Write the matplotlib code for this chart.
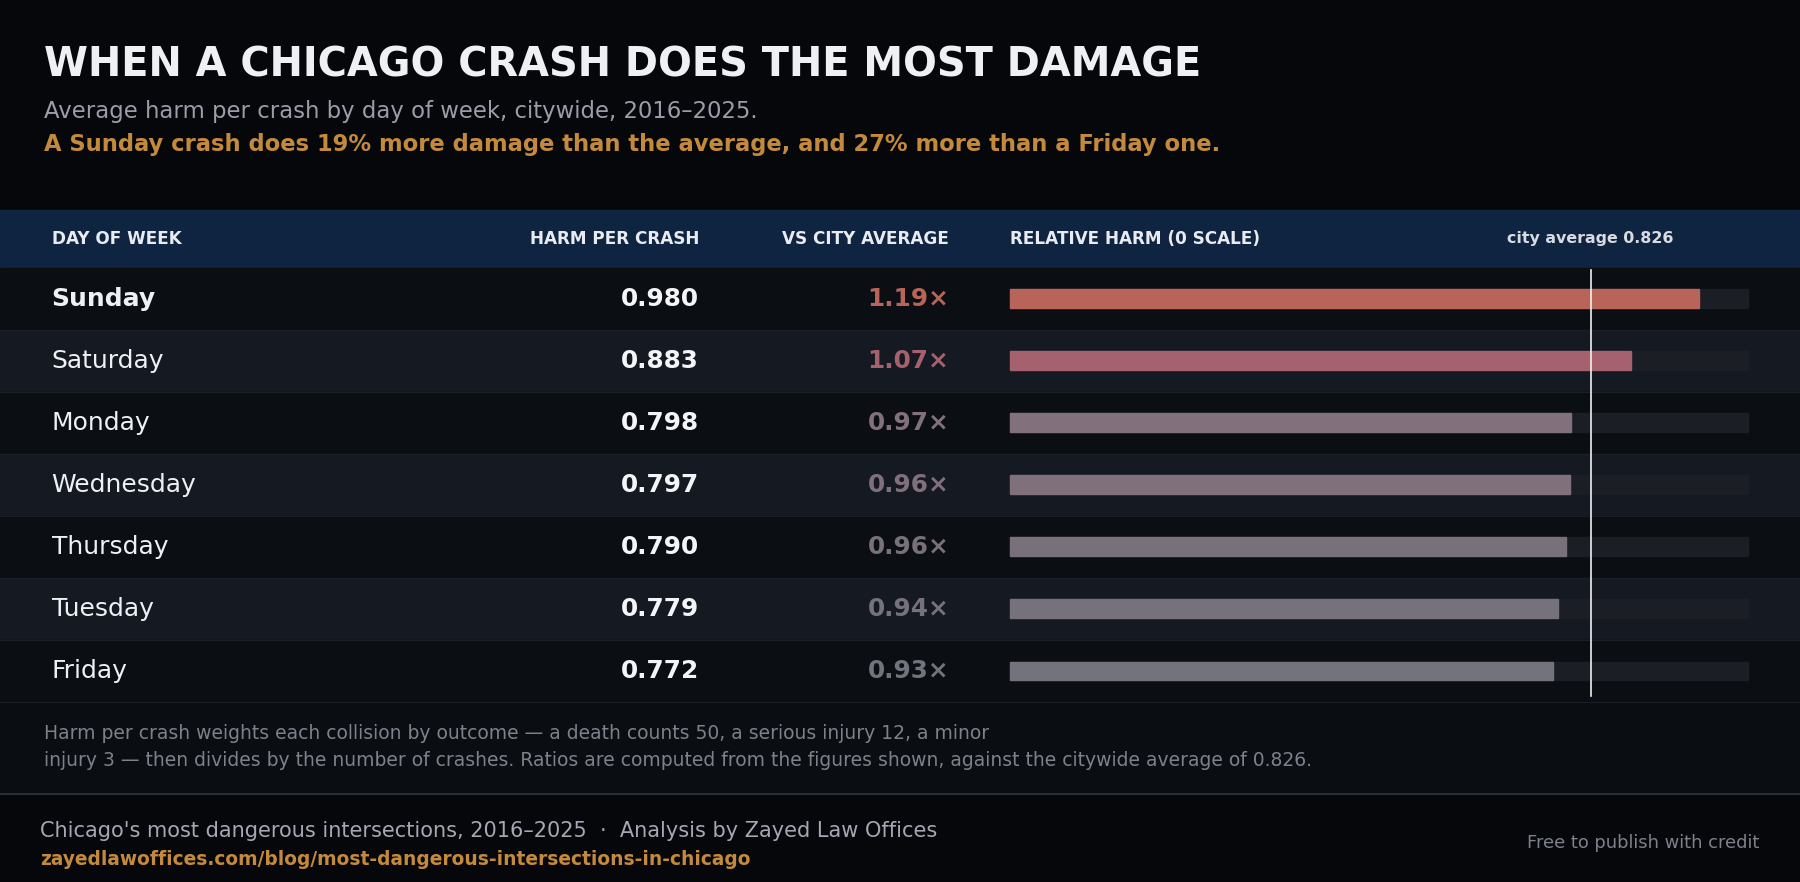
import matplotlib
matplotlib.use("Agg")
import matplotlib.pyplot as plt
from matplotlib.patches import Rectangle

days = ["Sunday", "Saturday", "Monday", "Wednesday", "Thursday", "Tuesday", "Friday"]
harm = [0.980, 0.883, 0.798, 0.797, 0.790, 0.779, 0.772]
ratio_labels = ["1.19×", "1.07×", "0.97×", "0.96×", "0.96×", "0.94×", "0.93×"]
bar_colors = ["#b86458", "#a6616e", "#82717d", "#80707c", "#78707a", "#75727c", "#72737d"]
city_avg = 0.826
scale_max = 1.05

W, H = 1568, 768
BG = "#06070b"

plt.rcParams["font.family"] = ["DejaVu Sans"]
fig = plt.figure(figsize=(18, 8.82), dpi=100, facecolor=BG)
ax = fig.add_axes([0, 0, 1, 1])
ax.set_xlim(0, W)
ax.set_ylim(H, 0)
ax.axis("off")
ax.add_patch(Rectangle((0, 0), W, H, color=BG, zorder=0))

# titles
ax.text(38, 57, "WHEN A CHICAGO CRASH DOES THE MOST DAMAGE", color="#eef0f4",
        fontsize=28.7, fontweight="bold", va="center")
ax.text(38, 97, "Average harm per crash by day of week, citywide, 2016–2025.",
        color="#9a9ea8", fontsize=16.4, va="center")
ax.text(38, 126, "A Sunday crash does 19% more damage than the average, and 27% more than a Friday one.",
        color="#c48a3c", fontsize=16.3, fontweight="bold", va="center")

# header band
ax.add_patch(Rectangle((0, 183), W, 50, color="#0f2440", zorder=1))
hy = 208
hkw = dict(color="#e8ebf0", fontsize=12.2, fontweight="bold", va="center", zorder=2)
ax.text(45, hy, "DAY OF WEEK", **hkw)
ax.text(609, hy, "HARM PER CRASH", ha="right", **hkw)
ax.text(827, hy, "VS CITY AVERAGE", ha="right", **hkw)
ax.text(880, hy, "RELATIVE HARM (0 SCALE)", **hkw)
ax.text(1385, hy, f"city average {city_avg:.3f}", ha="center", color="#d8dbe2",
        fontsize=11.4, fontweight="bold", va="center", zorder=2)

# rows
top, rh = 233, 54
bx0, bx1 = 880, 1523
px_per = (bx1 - bx0) / scale_max
for i, (d, v, r, c) in enumerate(zip(days, harm, ratio_labels, bar_colors)):
    y0 = top + i * rh
    yc = y0 + rh / 2
    ax.add_patch(Rectangle((0, y0), W, rh, color="#0b0e13" if i % 2 == 0 else "#141922", zorder=1))
    ax.plot([0, W], [y0 + rh, y0 + rh], color="#1a1f27", lw=0.8, zorder=1.5)
    ax.text(45, yc, d, color="#eef0f4", fontsize=18, va="center",
            fontweight="bold" if i == 0 else "normal", zorder=2)
    ax.text(609, yc, f"{v:.3f}", color="#f4f5f8", fontsize=17.8, fontweight="bold",
            ha="right", va="center", zorder=2)
    ax.text(827, yc, r, color=c, fontsize=17.8, fontweight="bold", ha="right", va="center", zorder=2)
    ax.add_patch(Rectangle((bx0, yc - 8), bx1 - bx0, 16, color="#1b1e25", zorder=2))
    ax.add_patch(Rectangle((bx0, yc - 8), v * px_per, 16, color=c, zorder=3))

avg_x = bx0 + city_avg * px_per
ax.plot([avg_x, avg_x], [235, 606], color="#f0f0f0", lw=1.2, zorder=4)

# footnote
ax.add_patch(Rectangle((0, 610), W, 81, color="#0a0d12", zorder=1))
ax.text(38, 639, "Harm per crash weights each collision by outcome — a death counts 50, a serious injury 12, a minor",
        color="#7d818b", fontsize=13.5, va="center", zorder=2)
ax.text(38, 662, "injury 3 — then divides by the number of crashes. Ratios are computed from the figures shown, against the citywide average of 0.826.",
        color="#7d818b", fontsize=13.5, va="center", zorder=2)
ax.plot([0, W], [691, 691], color="#2a2e36", lw=1.5, zorder=2)

# footer
ax.text(35, 724, "Chicago's most dangerous intersections, 2016–2025  ·  Analysis by Zayed Law Offices",
        color="#a4a8b2", fontsize=15, va="center")
ax.text(35, 748, "zayedlawoffices.com/blog/most-dangerous-intersections-in-chicago",
        color="#c48a3c", fontsize=13.4, fontweight="bold", va="center")
ax.text(1533, 734, "Free to publish with credit", color="#7d818b", fontsize=12.9,
        ha="right", va="center")

fig.savefig("out.png", dpi=100, facecolor=BG)
